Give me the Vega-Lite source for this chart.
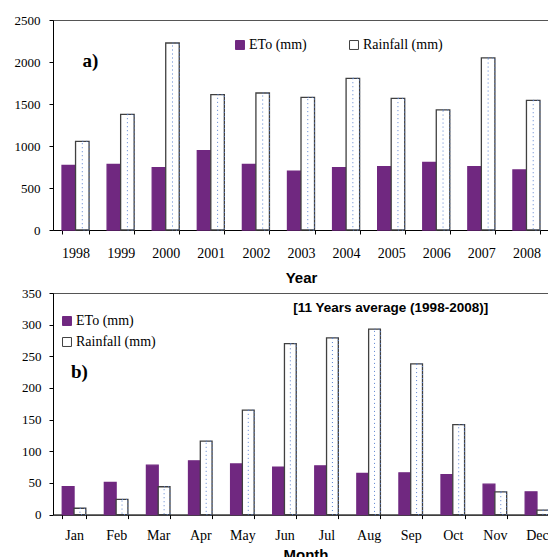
{
  "$schema": "https://vega.github.io/schema/vega-lite/v6.json",
  "padding": {"left": 13, "top": 13, "right": 0, "bottom": 0},
  "background": "white",
  "config": {
    "view": {"stroke": "#555555", "strokeWidth": 1},
    "axis": {
      "grid": false,
      "domainColor": "#000000",
      "tickColor": "#000000",
      "labelColor": "#000000",
      "labelFont": "Liberation Serif",
      "titleFont": "Liberation Sans",
      "titleFontWeight": "bold",
      "titleColor": "#000000",
      "tickSize": 4
    },
    "legend": {
      "labelFont": "Liberation Serif",
      "labelFontSize": 14,
      "labelColor": "#000000",
      "symbolType": "square",
      "symbolSize": 80,
      "symbolStrokeWidth": 1,
      "padding": 0,
      "labelOffset": 2,
      "title": null
    }
  },
  "columns": 1,
  "align": "none",
  "spacing": 0,
  "resolve": {
    "scale": {"fill": "independent", "stroke": "independent", "x": "independent", "y": "independent", "xOffset": "independent"},
    "legend": {"fill": "independent", "stroke": "independent"}
  },
  "concat": [
    {
      "width": 496,
      "height": 210,
      "data": {"values": [
        {"year": "1998", "series": "ETo (mm)", "value": 770},
        {"year": "1998", "series": "Rainfall (mm)", "value": 1056},
        {"year": "1999", "series": "ETo (mm)", "value": 782},
        {"year": "1999", "series": "Rainfall (mm)", "value": 1377},
        {"year": "2000", "series": "ETo (mm)", "value": 742},
        {"year": "2000", "series": "Rainfall (mm)", "value": 2226},
        {"year": "2001", "series": "ETo (mm)", "value": 944},
        {"year": "2001", "series": "Rainfall (mm)", "value": 1611},
        {"year": "2002", "series": "ETo (mm)", "value": 782},
        {"year": "2002", "series": "Rainfall (mm)", "value": 1631},
        {"year": "2003", "series": "ETo (mm)", "value": 702},
        {"year": "2003", "series": "Rainfall (mm)", "value": 1579},
        {"year": "2004", "series": "ETo (mm)", "value": 742},
        {"year": "2004", "series": "Rainfall (mm)", "value": 1806},
        {"year": "2005", "series": "ETo (mm)", "value": 754},
        {"year": "2005", "series": "Rainfall (mm)", "value": 1567},
        {"year": "2006", "series": "ETo (mm)", "value": 806},
        {"year": "2006", "series": "Rainfall (mm)", "value": 1429},
        {"year": "2007", "series": "ETo (mm)", "value": 754},
        {"year": "2007", "series": "Rainfall (mm)", "value": 2048},
        {"year": "2008", "series": "ETo (mm)", "value": 714},
        {"year": "2008", "series": "Rainfall (mm)", "value": 1544}
      ]},
      "encoding": {
        "x": {"field": "year", "type": "ordinal",
          "scale": {"paddingInner": 0.4, "paddingOuter": 0.2},
          "axis": {"title": "Year", "labelAngle": 0, "tickBand": "extent", "labelFont": "Liberation Serif", "labelFontSize": 14, "labelPadding": 12, "titleFontSize": 15, "titlePadding": 10}},
        "y": {"field": "value", "type": "quantitative",
          "scale": {"domain": [0, 2500]},
          "axis": {"title": null, "values": [0, 500, 1000, 1500, 2000, 2500], "format": "d", "labelFont": "Liberation Serif", "labelFontSize": 13, "labelPadding": 9}}
      },
      "layer": [
        {
          "mark": {"type": "bar", "strokeWidth": 1.3},
          "encoding": {
            "xOffset": {"field": "series", "scale": {"paddingInner": 0, "paddingOuter": 0}},
            "fill": {"field": "series", "type": "nominal",
              "scale": {"domain": ["ETo (mm)", "Rainfall (mm)"], "range": ["#702880", "#ffffff"]},
              "legend": {"orient": "none", "direction": "horizontal", "legendX": 180, "legendY": 18, "columnPadding": 40, "labelFont": "Liberation Serif", "labelFontSize": 14}},
            "stroke": {"field": "series", "type": "nominal",
              "scale": {"domain": ["ETo (mm)", "Rainfall (mm)"], "range": ["#702880", "#404040"]}}
          }
        },
        {
          "transform": [{"filter": "datum.series === 'Rainfall (mm)'"}],
          "mark": {"type": "bar", "fillOpacity": 0, "stroke": "#5a82d2", "strokeWidth": 1, "strokeDash": [1, 3], "width": {"band": 0.5}},
          "encoding": {
            "xOffset": {"field": "series"}
          }
        },
        {
          "data": {"values": [{"label": "a)", "year": "1998", "value": 2015}]},
          "mark": {"type": "text", "font": "Liberation Serif", "fontWeight": "bold", "fontSize": 19, "align": "left", "baseline": "middle", "dx": 7, "color": "#000000"},
          "encoding": {
            "text": {"field": "label"}
          }
        }
      ]
    },
    {
      "width": 505,
      "height": 221.6,
      "data": {"values": [
        {"month": "Jan", "series": "ETo (mm)", "value": 44},
        {"month": "Jan", "series": "Rainfall (mm)", "value": 10},
        {"month": "Feb", "series": "ETo (mm)", "value": 51},
        {"month": "Feb", "series": "Rainfall (mm)", "value": 24},
        {"month": "Mar", "series": "ETo (mm)", "value": 78},
        {"month": "Mar", "series": "Rainfall (mm)", "value": 44},
        {"month": "Apr", "series": "ETo (mm)", "value": 85},
        {"month": "Apr", "series": "Rainfall (mm)", "value": 116},
        {"month": "May", "series": "ETo (mm)", "value": 80},
        {"month": "May", "series": "Rainfall (mm)", "value": 165},
        {"month": "Jun", "series": "ETo (mm)", "value": 75},
        {"month": "Jun", "series": "Rainfall (mm)", "value": 270},
        {"month": "Jul", "series": "ETo (mm)", "value": 77},
        {"month": "Jul", "series": "Rainfall (mm)", "value": 279},
        {"month": "Aug", "series": "ETo (mm)", "value": 65},
        {"month": "Aug", "series": "Rainfall (mm)", "value": 293},
        {"month": "Sep", "series": "ETo (mm)", "value": 66},
        {"month": "Sep", "series": "Rainfall (mm)", "value": 238},
        {"month": "Oct", "series": "ETo (mm)", "value": 63},
        {"month": "Oct", "series": "Rainfall (mm)", "value": 142},
        {"month": "Nov", "series": "ETo (mm)", "value": 48},
        {"month": "Nov", "series": "Rainfall (mm)", "value": 36},
        {"month": "Dec", "series": "ETo (mm)", "value": 36},
        {"month": "Dec", "series": "Rainfall (mm)", "value": 7}
      ]},
      "encoding": {
        "x": {"field": "month", "type": "ordinal", "sort": ["Jan","Feb","Mar","Apr","May","Jun","Jul","Aug","Sep","Oct","Nov","Dec"],
          "scale": {"paddingInner": 0.44, "paddingOuter": 0.22},
          "axis": {"title": "Month", "labelAngle": 0, "tickBand": "extent", "labelFont": "Liberation Serif", "labelFontSize": 14, "labelPadding": 10, "titleFontSize": 15, "titlePadding": 5}},
        "y": {"field": "value", "type": "quantitative",
          "scale": {"domain": [0, 350]},
          "axis": {"title": null, "values": [0, 50, 100, 150, 200, 250, 300, 350], "format": "d", "labelFont": "Liberation Serif", "labelFontSize": 13, "labelPadding": 8}}
      },
      "layer": [
        {
          "mark": {"type": "bar", "strokeWidth": 1.3},
          "encoding": {
            "xOffset": {"field": "series", "scale": {"paddingInner": 0, "paddingOuter": 0}},
            "fill": {"field": "series", "type": "nominal",
              "scale": {"domain": ["ETo (mm)", "Rainfall (mm)"], "range": ["#702880", "#ffffff"]},
              "legend": {"orient": "none", "direction": "vertical", "legendX": 7, "legendY": 21, "rowPadding": 7, "labelFont": "Liberation Serif", "labelFontSize": 14}},
            "stroke": {"field": "series", "type": "nominal",
              "scale": {"domain": ["ETo (mm)", "Rainfall (mm)"], "range": ["#702880", "#404040"]}}
          }
        },
        {
          "transform": [{"filter": "datum.series === 'Rainfall (mm)'"}],
          "mark": {"type": "bar", "fillOpacity": 0, "stroke": "#5a82d2", "strokeWidth": 1, "strokeDash": [1, 3], "width": {"band": 0.5}},
          "encoding": {
            "xOffset": {"field": "series"}
          }
        },
        {
          "data": {"values": [{"label": "b)", "month": "Jan", "value": 226}]},
          "mark": {"type": "text", "font": "Liberation Serif", "fontWeight": "bold", "fontSize": 19, "align": "left", "baseline": "middle", "dx": -3, "color": "#000000"},
          "encoding": {
            "text": {"field": "label"}
          }
        },
        {
          "data": {"values": [{"label": "[11 Years average (1998-2008)]", "month": "Sep", "value": 326}]},
          "mark": {"type": "text", "font": "Liberation Sans", "fontWeight": "bold", "fontSize": 13.5, "align": "center", "baseline": "middle", "dx": -20, "color": "#000000"},
          "encoding": {
            "text": {"field": "label"}
          }
        }
      ]
    }
  ]
}
